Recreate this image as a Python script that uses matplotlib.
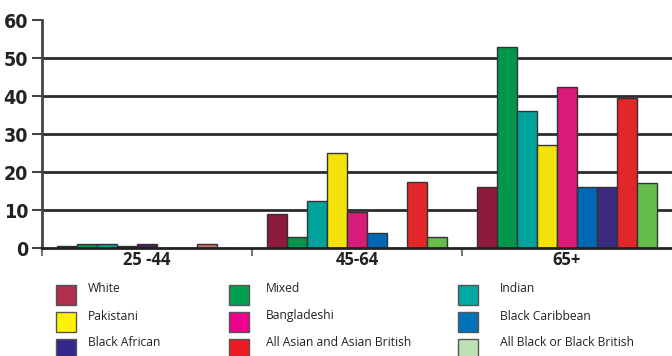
import numpy as np
import matplotlib
matplotlib.use("Agg")
import matplotlib.pyplot as plt
from matplotlib.patches import Rectangle

# age groups and ethnic groups (values in %)
groups = ["25 -44", "45-64", "65+"]
series = ["White", "Mixed", "Indian", "Pakistani", "Bangladeshi",
          "Black Caribbean", "Black African", "All Asian and Asian British",
          "All Black or Black British"]

white = [0.4, 9, 16]
mixed = [1, 3, 53]
indian = [1, 12.5, 36]
pakistani = [0.4, 25, 27]
bangladeshi = [1, 9.5, 42.5]
black_caribbean = [0, 4, 16]
black_african = [0, 0, 16]
all_asian = [1, 17.5, 39.5]
all_black = [0, 3, 17]

values = [white, mixed, indian, pakistani, bangladeshi,
          black_caribbean, black_african, all_asian, all_black]

bar_colors = ["#8e1a3c", "#00964c", "#00a39b", "#f5e20a", "#d81a78",
              "#0068b4", "#3c2a80", "#e2262a", "#66bd4c"]
legend_colors = ["#b02e4e", "#00a050", "#00aaa4", "#fff200", "#ec008c",
                 "#0072bc", "#32288a", "#ed1c24", "#bde0b3"]
# the small 25-44 bars look a bit different
small_colors = ["#2a1a1a", "#00964c", "#00a39b", "#1a1a1a", "#4a1f5e",
                "#0068b4", "#3c2a80", "#d0706a", "#66bd4c"]

plt.rcParams["font.family"] = ["Open Sans", "DejaVu Sans"]

fig = plt.figure(figsize=(6.72, 3.56), dpi=100)
ax = fig.add_axes([42 / 672, 1 - 248 / 356, 1 - 42 / 672, (248 - 20) / 356])

x = np.arange(len(groups))
n = len(series)
w = 0.857 / n
for i, vals in enumerate(values):
    pos = x - 0.857 / 2 + w * (i + 0.5)
    cols = [small_colors[i]] + [bar_colors[i]] * (len(groups) - 1)
    ax.bar(pos, vals, width=w * 0.97, color=cols, edgecolor="#333333",
           linewidth=1.0, zorder=3)

ax.set_xlim(-0.5, 2.5)
ax.set_ylim(0, 60)
ax.set_yticks(range(0, 61, 10))
for yv in range(10, 51, 10):
    ax.axhline(yv, color="#2b2b2b", linewidth=2, zorder=1)

ax.set_yticklabels([str(v) for v in range(0, 61, 10)],
                   family="DejaVu Sans", fontstretch="condensed",
                   fontweight="bold", fontsize=14, color="#222222")
ax.tick_params(axis="y", length=7, width=1.5, color="#444444", pad=3)

ax.set_xticks([-0.5, 0.5, 1.5])
ax.set_xticks(x, minor=True)
ax.set_xticklabels([])
ax.set_xticklabels(groups, minor=True, fontweight="bold", fontsize=12,
                   color="#222222")
ax.tick_params(axis="x", which="major", length=6, width=1.5,
               color="#777777", direction="out")
ax.tick_params(axis="x", which="minor", length=0, pad=2)

for s in ["top", "right"]:
    ax.spines[s].set_visible(False)
ax.spines["left"].set_linewidth(2)
ax.spines["left"].set_color("#444444")
ax.spines["bottom"].set_linewidth(2)
ax.spines["bottom"].set_color("#222222")
ax.spines["bottom"].set_zorder(4)

# legend: 3 columns, row-wise order
col_sq = [56, 229, 458]
col_tx = [88, 266, 500]
row_top = [285, 312, 339]
for k, name in enumerate(series):
    r, c = divmod(k, 3)
    fig.patches.append(Rectangle((col_sq[c] / 672, 1 - (row_top[r] + 20) / 356),
                                 20 / 672, 20 / 356, transform=fig.transFigure,
                                 facecolor=legend_colors[k], edgecolor="#555555",
                                 linewidth=1.0))
    fig.text(col_tx[c] / 672, 1 - (row_top[r] + 4) / 356, name,
             fontsize=8.7, color="#222222", va="center", ha="left")

fig.savefig("out.png", dpi=100)
